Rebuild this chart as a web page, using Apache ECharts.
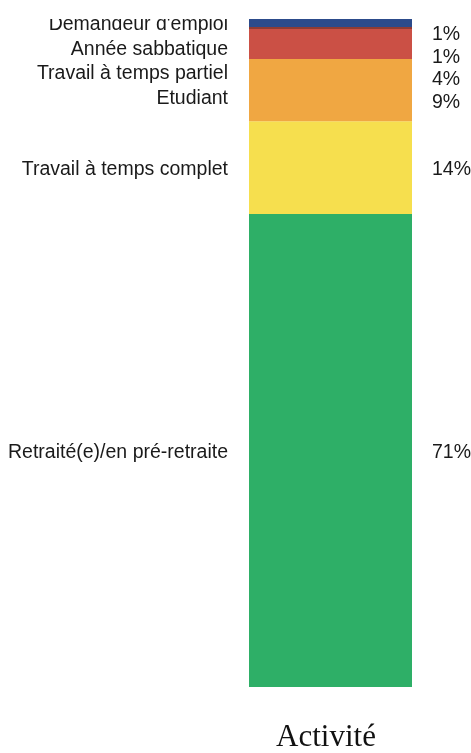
<!DOCTYPE html>
<html>
<head>
<meta charset="utf-8">
<script src="https://cdn.jsdelivr.net/npm/echarts@6/dist/echarts.min.js"></script>
<style>
  html, body { margin: 0; background: #fff; }
  #chart { width: 471px; height: 753px; }
</style>
</head>
<body>
<div id="chart"></div>
<script>
// segments from top to bottom of the bar
const categories = [
  "Demandeur d'emploi",
  'Année sabbatique',
  'Travail à temps partiel',
  'Etudiant',
  'Travail à temps complet',
  'Retraité(e)/en pré-retraite'
]
const shares = [1.2, 0.3, 4.5, 9.3, 13.9, 70.8]
const pctLabels = ['1%', '1%', '4%', '9%', '14%', '71%']
const axisCategory = ['Activité']
const colors = ['#2c4b8b', '#8f3b33', '#cb5045', '#f0a742', '#f6df4e', '#2eaf67']

const total = shares.reduce((a, b) => a + b, 0)
const chart = echarts.init(document.getElementById('chart'))

const labelText = {
  fontFamily: 'Liberation Sans, Arial, sans-serif',
  fontSize: 19.5,
  color: '#1a1a1a'
}

// stacks grow bottom-up, so series go in reverse order
const order = categories.map((c, i) => i).reverse()

const series = []
order.forEach(i => {
  series.push({
    id: 'seg' + i,
    name: categories[i],
    type: 'bar',
    stack: 'share',
    barWidth: '100%',
    data: [shares[i]],
    itemStyle: { color: colors[i] },
    label: {
      show: true,
      position: 'left',
      distance: 21,
      formatter: categories[i],
      ...labelText
    },
    emphasis: { disabled: true }
  })
})
order.forEach(i => {
  // invisible twin on a hidden axis, only here to carry the % label
  series.push({
    id: 'pct' + i,
    type: 'bar',
    stack: 'pct',
    xAxisIndex: 1,
    barWidth: '100%',
    silent: true,
    data: [shares[i]],
    itemStyle: { color: 'transparent' },
    label: {
      show: true,
      position: 'right',
      distance: 20,
      formatter: pctLabels[i],
      ...labelText
    },
    emphasis: { disabled: true }
  })
})

chart.setOption({
  animation: false,
  grid: { left: 249, right: 59, top: 19, bottom: 65 },
  xAxis: [
    {
      type: 'category',
      data: axisCategory,
      axisLine: { show: false },
      axisTick: { show: false },
      axisLabel: {
        margin: 35,
        padding: [0, 9, 0, 0],
        fontFamily: 'Liberation Serif, Times New Roman, serif',
        fontSize: 31,
        color: '#111'
      }
    },
    { type: 'category', data: axisCategory, show: false }
  ],
  yAxis: { type: 'value', min: 0, max: total, show: false },
  series: series,
  graphic: [
    // the top label is cut at the plot edge in the original
    { type: 'rect', left: 0, top: 0, z: 100, shape: { width: 245, height: 19 }, style: { fill: '#fff' } }
  ]
})

// push the small labels apart, starting from each segment's own centre
function spread (minY, gap) {
  let acc = total
  let prev = -Infinity
  return shares.map(v => {
    const mid = chart.convertToPixel({ yAxisIndex: 0 }, acc - v / 2)
    acc -= v
    const y = Math.max(mid, minY, prev + gap)
    prev = y
    return y - mid + 2
  })
}

const leftShift = spread(0, 24.5)
const rightShift = spread(32.5, 22.7)
chart.setOption({
  series: categories.map((c, i) => ({ id: 'seg' + i, label: { offset: [0, leftShift[i]] } }))
    .concat(categories.map((c, i) => ({ id: 'pct' + i, label: { offset: [0, rightShift[i]] } })))
})
</script>
</body>
</html>
